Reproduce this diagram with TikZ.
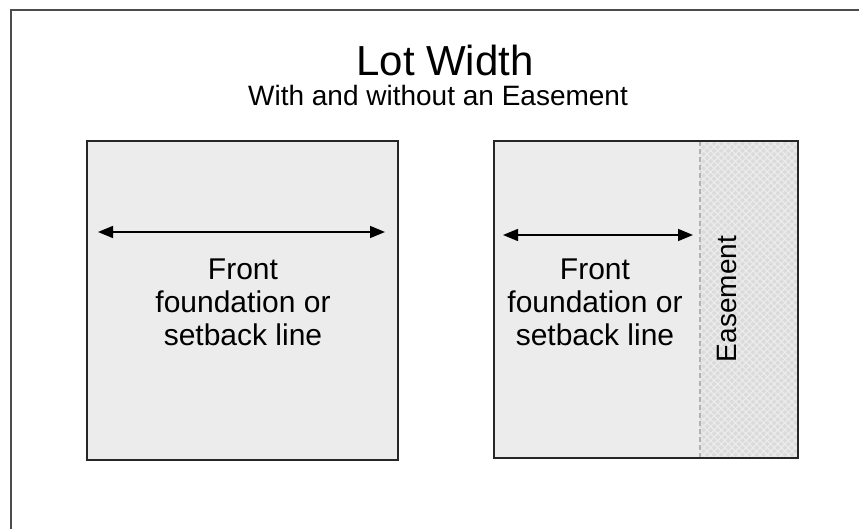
\documentclass[tikz,border=0pt]{standalone}
\usepackage{fontspec}
\setmainfont{Liberation Sans}
\usetikzlibrary{arrows.meta,patterns.meta,positioning}

\tikzset{
  lot/.style={draw=black!85, line width=1.5pt},
  lotfill/.style={fill=gray!15},
  weave/.style={pattern={Lines[angle=#1,distance=5pt,line width=1.2pt]}, pattern color=white!85!gray},
  dimline/.style={line width=1.5pt, {Triangle[length=15pt,width=12pt]}-{Triangle[length=15pt,width=12pt]}},
  lbl/.style={align=center, font=\fontsize{30}{33}\selectfont, inner sep=0pt},
}

\begin{document}
\begin{tikzpicture}[x=1pt,y=-1pt]
\useasboundingbox (0,0) rectangle (859,529);

% frame (only top and left edges show)
\draw[line width=2pt, black!70] (11,529) -- (11,10) -- (859,10);

\node[anchor=base, inner sep=0pt, font=\fontsize{42}{46}\selectfont] (title) at (445,76) {Lot Width};
\node[anchor=base, inner sep=0pt, font=\fontsize{28}{32}\selectfont] (subtitle) at (438,106) {With and without an Easement};

% left lot, no easement
\draw[lot, lotfill] (87,141) rectangle (398,460);
\coordinate (la) at (98,232);
\coordinate (lb) at (385,232);
\draw[dimline] (la) -- (lb);
\node[lbl, anchor=north] (ltext) at (243,259) {Front\\foundation or\\setback line};

% right lot, with easement
\fill[lotfill] (494,141) rectangle (700,458);
\fill[gray!28] (700,141) rectangle (798,458);
\fill[weave=45] (700,141) rectangle (798,458);
\fill[weave=-45] (700,141) rectangle (798,458);
\draw[gray!60, line width=1.3pt, dash pattern=on 5pt off 3pt] (700,141) -- (700,458);
\draw[lot] (494,141) rectangle (798,458);
\coordinate (ra) at (503,235);
\coordinate (rb) at (693,235);
\draw[dimline] (ra) -- (rb);
\node[lbl, anchor=north] (rtext) at (595,259) {Front\\foundation or\\setback line};
\node[inner sep=0pt, rotate=90, font=\fontsize{28}{30}\selectfont] (easement) at (727,299) {Easement};

\end{tikzpicture}
\end{document}
